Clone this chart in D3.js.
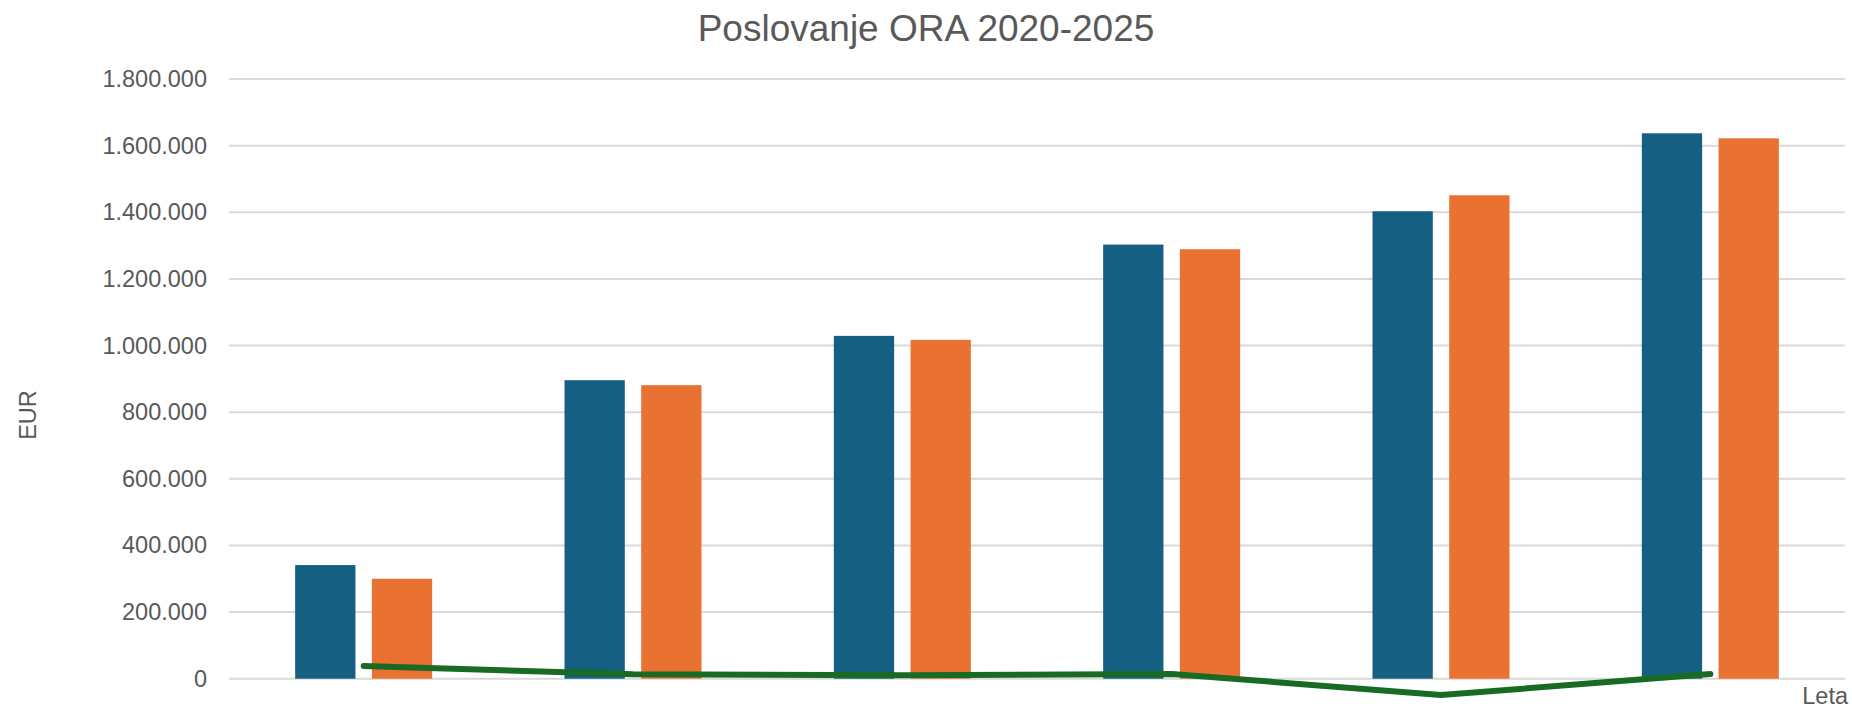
<!DOCTYPE html>
<html>
<head>
<meta charset="utf-8">
<script src="https://cdn.jsdelivr.net/npm/d3@7"></script>
<style>
  body { margin: 0; background: #fff; }
  text { font-family: "Liberation Sans", Arial, sans-serif; fill: #595959; }
</style>
</head>
<body>
<svg width="1852" height="711"></svg>
<script>
'use strict';

// podatki
var leta = ['2020', '2021', '2022', '2023', '2024', '2025'];
var serije = ['prihodki', 'odhodki'];
var prihodki = [341000, 896000, 1029000, 1303000, 1403000, 1637000];
var odhodki = [300000, 881000, 1017000, 1289000, 1451000, 1622000];
var rezultat = [38000, 13000, 10000, 14000, -49000, 14000];
var yTicks = [0, 200000, 400000, 600000, 800000, 1000000, 1200000, 1400000, 1600000, 1800000];

var barve = { prihodki: '#156082', odhodki: '#E97132' };

var svg = d3.select('svg');

var x0 = d3.scaleBand()
    .domain(leta)
    .range([229, 1845]);

var x1 = d3.scaleBand()
    .domain(serije)
    .range([0, x0.bandwidth()])
    .paddingInner(0.214)
    .paddingOuter(0.8625);

var y = d3.scaleLinear()
    .domain([0, 1800000])
    .range([678.7, 79]);

var sl = d3.formatLocale({ decimal: ',', thousands: '.', grouping: [3], currency: ['', ' €'] });
var fmt = sl.format(',d');

// mreza
svg.append('g')
    .selectAll('line')
    .data(yTicks)
    .enter()
    .append('line')
    .attr('x1', 229)
    .attr('x2', 1845)
    .attr('y1', function (d) { return y(d); })
    .attr('y2', function (d) { return y(d); })
    .attr('stroke', '#d9d9d9')
    .attr('stroke-width', 2);

// os y
var yAxis = d3.axisLeft(y)
    .tickValues(yTicks)
    .tickFormat(fmt)
    .tickSize(0)
    .tickPadding(0);

svg.append('g')
    .attr('transform', 'translate(207,0)')
    .call(yAxis)
    .call(function (g) { g.select('.domain').remove(); })
    .selectAll('text')
    .style('font-family', '"Liberation Sans", Arial, sans-serif')
    .style('font-size', '23.5px')
    .attr('fill', '#595959');

// stolpci
var tabela = leta.map(function (l, i) {
    return { leto: l, prihodki: prihodki[i], odhodki: odhodki[i] };
});

svg.append('g')
    .selectAll('g')
    .data(tabela)
    .enter()
    .append('g')
    .attr('transform', function (d) { return 'translate(' + x0(d.leto) + ',0)'; })
    .selectAll('rect')
    .data(function (d) {
        return serije.map(function (k) { return { key: k, value: d[k] }; });
    })
    .enter()
    .append('rect')
    .attr('x', function (d) { return x1(d.key); })
    .attr('y', function (d) { return y(d.value); })
    .attr('width', x1.bandwidth())
    .attr('height', function (d) { return y(0) - y(d.value); })
    .attr('fill', function (d) { return barve[d.key]; });

// crta rezultata
var crta = d3.line()
    .x(function (d, i) { return x0(leta[i]) + x0.bandwidth() / 2; })
    .y(function (d) { return y(d); });

svg.append('path')
    .datum(rezultat)
    .attr('d', crta)
    .attr('fill', 'none')
    .attr('stroke', '#196B24')
    .attr('stroke-width', 6)
    .attr('stroke-linecap', 'round')
    .attr('stroke-linejoin', 'round');

// naslov
svg.append('text')
    .text('Poslovanje ORA 2020-2025')
    .attr('x', 926)
    .attr('y', 41)
    .attr('text-anchor', 'middle')
    .style('font-size', '37px');

// naslovi osi
svg.append('text')
    .text('EUR')
    .attr('transform', 'translate(36,415) rotate(-90)')
    .attr('text-anchor', 'middle')
    .style('font-size', '23.5px');

svg.append('text')
    .text('Leta')
    .attr('x', 1848)
    .attr('y', 704)
    .attr('text-anchor', 'end')
    .style('font-size', '23.5px');
</script>
</body>
</html>
